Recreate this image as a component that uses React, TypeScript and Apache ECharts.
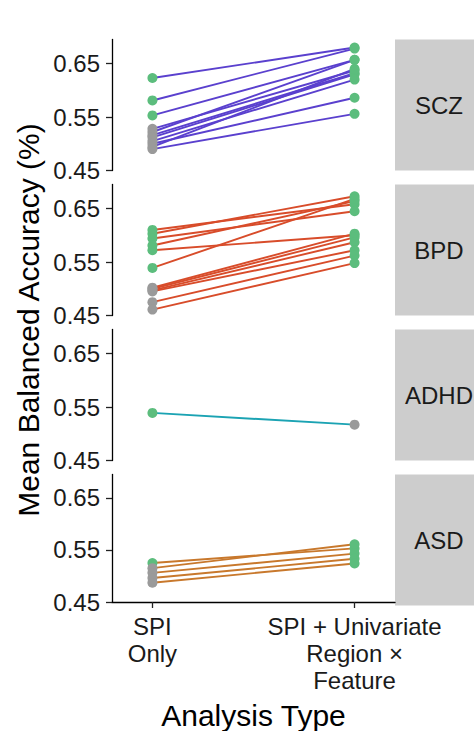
import React, { useEffect, useRef } from "react";
import * as echarts from "echarts";

const analysisTypes = ["SPI\nOnly", "SPI + Univariate\nRegion ×\nFeature"];
const disorders = ["SCZ", "BPD", "ADHD", "ASD"];
const yTicks = [0.45, 0.55, 0.65];

const sczSpiOnly = [0.623, 0.581, 0.553, 0.528, 0.522, 0.516, 0.512, 0.505, 0.5, 0.494, 0.49];
const sczCombined = [0.68, 0.678, 0.657, 0.637, 0.657, 0.632, 0.63, 0.62, 0.586, 0.64, 0.556];
const sczSigOnly = [true, true, true, false, false, false, false, false, false, false, false];
const sczSigCombined = [true, true, true, true, true, true, true, true, true, true, true];

const bpdSpiOnly = [0.61, 0.603, 0.594, 0.581, 0.572, 0.539, 0.502, 0.5, 0.497, 0.495, 0.475, 0.461];
const bpdCombined = [0.658, 0.673, 0.645, 0.664, 0.6, 0.668, 0.603, 0.596, 0.587, 0.572, 0.562, 0.548];
const bpdSigOnly = [true, true, true, true, true, true, false, false, false, false, false, false];
const bpdSigCombined = [true, true, true, true, true, true, true, true, true, true, true, true];

const adhdSpiOnly = [0.539];
const adhdCombined = [0.517];
const adhdSigOnly = [true];
const adhdSigCombined = [false];

const asdSpiOnly = [0.525, 0.515, 0.506, 0.496, 0.487];
const asdCombined = [0.553, 0.561, 0.543, 0.533, 0.524];
const asdSigOnly = [true, false, false, false, false];
const asdSigCombined = [true, true, true, true, true];

const panels = [
  { only: sczSpiOnly, comb: sczCombined, sigO: sczSigOnly, sigC: sczSigCombined, color: "#5a40ce" },
  { only: bpdSpiOnly, comb: bpdCombined, sigO: bpdSigOnly, sigC: bpdSigCombined, color: "#d84c2a" },
  { only: adhdSpiOnly, comb: adhdCombined, sigO: adhdSigOnly, sigC: adhdSigCombined, color: "#1ba3b3" },
  { only: asdSpiOnly, comb: asdCombined, sigO: asdSigOnly, sigC: asdSigCombined, color: "#c8782c" },
];

const SIG = "#5cbd7d";
const NONSIG = "#9a9a9a";
const FONT = "Liberation Sans, Arial, Helvetica, sans-serif";

export default function App() {
  const ref = useRef<HTMLDivElement>(null);
  useEffect(() => {
    if (!ref.current) return;
    const chart = echarts.init(ref.current, undefined, { renderer: "svg" });
    const tops = [39.5, 184.5, 329.5, 474.5];
    const H = 131;
    const left = 112;
    const width = 283;
    const grids = tops.map((t) => ({ left, width, top: t, height: H }));
    const xAxes = tops.map((_, i) => {
      const bottom = i === tops.length - 1;
      return {
        type: "value",
        gridIndex: i,
        min: 0.8,
        max: 2.2,
        axisLine: { show: bottom, lineStyle: { color: "#000", width: 1.3 } },
        axisTick: { show: bottom, customValues: [1, 2], length: 6, lineStyle: { color: "#222", width: 1.3 } },
        axisLabel: {
          show: bottom,
          customValues: [1, 2],
          formatter: (v: number) => analysisTypes[Math.round(v) - 1],
          fontSize: 24,
          lineHeight: 27,
          color: "#1a1a1a",
          fontFamily: FONT,
          margin: 11,
        },
        splitLine: { show: false },
        name: bottom ? "Analysis Type" : "",
        nameLocation: "middle",
        nameGap: 98,
        nameTextStyle: { fontSize: 30, color: "#000", fontFamily: FONT },
      };
    });
    const yAxes = tops.map((_, i) => ({
      type: "value",
      gridIndex: i,
      min: 0.45,
      max: 0.695,
      axisLine: { show: true, lineStyle: { color: "#000", width: 1.3 } },
      axisTick: { show: true, customValues: yTicks, length: 6, lineStyle: { color: "#222", width: 1.3 } },
      axisLabel: {
        customValues: yTicks,
        formatter: (v: number) => v.toFixed(2),
        fontSize: 24,
        color: "#1a1a1a",
        fontFamily: FONT,
        margin: 12,
      },
      splitLine: { show: false },
    }));
    const series: any[] = [];
    panels.forEach((p, i) => {
      p.only.forEach((v, j) => {
        series.push({
          type: "line",
          xAxisIndex: i,
          yAxisIndex: i,
          data: [
            [1, v],
            [2, p.comb[j]],
          ],
          symbol: "none",
          lineStyle: { color: p.color, width: 1.9 },
          silent: true,
          z: 2,
        });
      });
      const pts: any[] = [];
      p.only.forEach((v, j) => {
        pts.push({ value: [1, v], itemStyle: { color: p.sigO[j] ? SIG : NONSIG } });
      });
      p.comb.forEach((v, j) => {
        pts.push({ value: [2, v], itemStyle: { color: p.sigC[j] ? SIG : NONSIG } });
      });
      series.push({
        type: "scatter",
        xAxisIndex: i,
        yAxisIndex: i,
        data: pts,
        symbolSize: 10,
        itemStyle: { opacity: 1 },
        z: 3,
      });
    });
    const graphic: any[] = [];
    tops.forEach((t, i) => {
      graphic.push({
        type: "rect",
        shape: { x: 395, y: t, width: 100, height: H },
        style: { fill: "#cdcdcd" },
        silent: true,
      });
      graphic.push({
        type: "text",
        x: 439,
        y: t + H / 2,
        style: {
          text: disorders[i],
          fontSize: 24,
          fontFamily: FONT,
          fill: "#1a1a1a",
          textAlign: "center",
          textVerticalAlign: "middle",
        },
      });
    });
    graphic.push({
      type: "text",
      x: 28,
      y: 320,
      rotation: Math.PI / 2,
      style: {
        text: "Mean Balanced Accuracy (%)",
        fontSize: 30,
        fontFamily: FONT,
        fill: "#000",
        textAlign: "center",
        textVerticalAlign: "middle",
      },
    });
    chart.setOption({
      animation: false,
      backgroundColor: "#fff",
      grid: grids,
      xAxis: xAxes,
      yAxis: yAxes,
      series,
      graphic,
    });
    return () => chart.dispose();
  }, []);
  return (
    <div
      ref={ref}
      style={{ position: "absolute", left: 0, top: 0, width: 474, height: 731 }}
    />
  );
}
